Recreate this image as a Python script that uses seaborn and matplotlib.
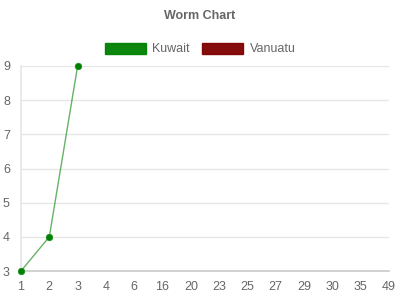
import matplotlib
matplotlib.use("Agg")
import matplotlib.pyplot as plt
from matplotlib.patches import Patch
import seaborn as sns
import numpy as np
import pandas as pd

x_labels = ["1", "2", "3", "4", "6", "16", "20", "23", "25", "27", "29", "30", "35", "49"]
kuwait = [3, 4, 9]
series_names = ["Kuwait", "Vanuatu"]
series_colors = ["#008000", "#800000"]

sns.set_theme(style="white")
plt.rcParams['font.family'] = ['Liberation Sans', 'DejaVu Sans']

fig = plt.figure(figsize=(4, 3), dpi=100)
ax = fig.add_axes([21/400, 1 - 271/300, (389 - 21)/400, (271 - 66)/300])

df = pd.DataFrame({"pos": np.arange(len(kuwait)), "value": kuwait})
sns.lineplot(data=df, x="pos", y="value", ax=ax, color="#008000", alpha=0.6,
             linewidth=1.0, marker=None, legend=False)
ax.scatter(df["pos"], df["value"], s=22, color="#008000", zorder=5, clip_on=False,
           edgecolors="#1a8f1a", linewidths=0.5)

ax.set_xlim(0, len(x_labels) - 1)
ax.set_ylim(3, 9)
ax.set_xticks(np.arange(len(x_labels)))
ax.set_xticklabels(x_labels)
ax.set_yticks(np.arange(3, 10))
ax.set_xlabel("")
ax.set_ylabel("")
ax.grid(axis="y", color="#e6e6e6", linewidth=1)
ax.grid(axis="x", visible=False)
for s in ["top", "right"]:
    ax.spines[s].set_visible(False)
ax.spines["left"].set_color("#e6e6e6")
ax.spines["bottom"].set_color("#cccccc")
ax.tick_params(axis="both", length=5, color="#e0e0e0", labelsize=9, labelcolor="#666666", pad=3)
ax.tick_params(axis="x", pad=2)

fig.text(0.5, 1 - 16/300, "Worm Chart", ha="center", va="center",
         fontsize=9, fontweight="bold", color="#666666")

handles = [Patch(facecolor=c, edgecolor=c, alpha=0.95, linewidth=1) for c in series_colors]
leg = fig.legend(handles, series_names, loc="center", bbox_to_anchor=(0.5, 1 - 49/300),
                 ncol=2, frameon=False, fontsize=9, handlelength=3.3, handleheight=1.0,
                 columnspacing=1.0, handletextpad=0.5)
for t in leg.get_texts():
    t.set_color("#666666")

fig.savefig("out.png", dpi=100)
